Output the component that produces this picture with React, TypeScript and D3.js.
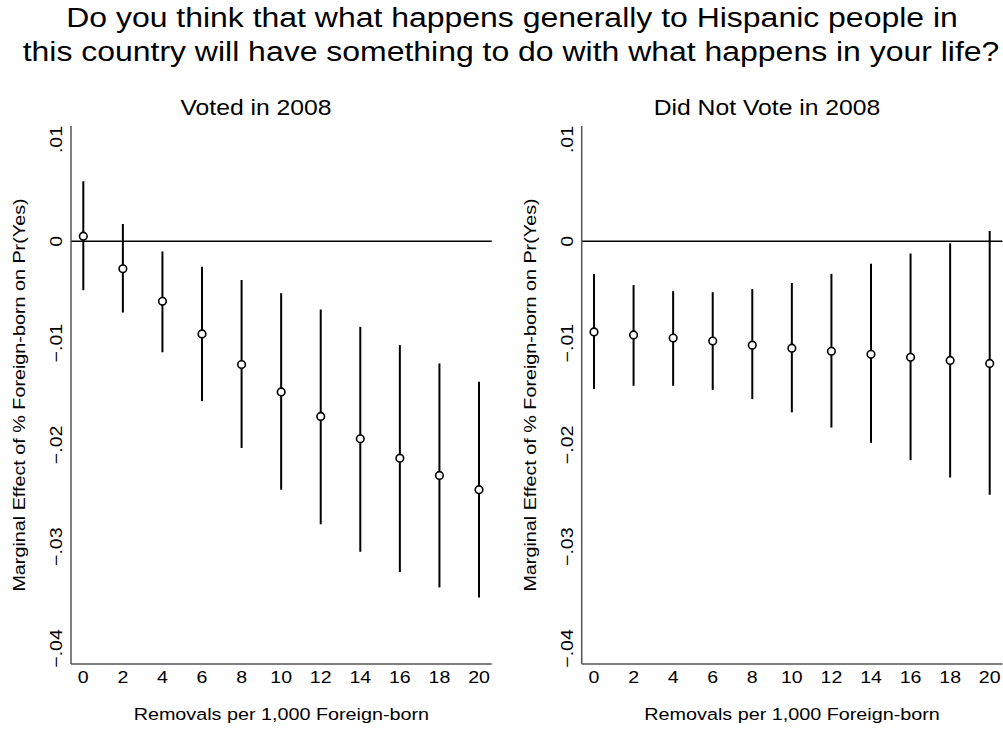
import React from 'react';
import * as d3 from 'd3';

// removals per 1,000 foreign-born (x positions)
const removals = [0, 2, 4, 6, 8, 10, 12, 14, 16, 18, 20];

// Voted in 2008: point estimate and 95% CI
const votedEst = [0.0005, -0.0027, -0.0059, -0.0091, -0.0121, -0.0148, -0.0172, -0.0194, -0.0213, -0.023, -0.0244];
const votedLo = [-0.0048, -0.007, -0.0109, -0.0157, -0.0203, -0.0244, -0.0278, -0.0305, -0.0325, -0.034, -0.035];
const votedHi = [0.0059, 0.0017, -0.001, -0.0025, -0.0038, -0.0051, -0.0067, -0.0084, -0.0102, -0.012, -0.0138];

// Did not vote in 2008
const nonvEst = [-0.0089, -0.0092, -0.0095, -0.0098, -0.0102, -0.0105, -0.0108, -0.0111, -0.0114, -0.0117, -0.012];
const nonvLo = [-0.0145, -0.0142, -0.0142, -0.0146, -0.0155, -0.0168, -0.0183, -0.0198, -0.0215, -0.0232, -0.0249];
const nonvHi = [-0.0032, -0.0043, -0.0049, -0.005, -0.0047, -0.0041, -0.0032, -0.0022, -0.0012, -0.0002, 0.001];

const yTicks = [0.01, 0, -0.01, -0.02, -0.03, -0.04];
const xTicks = [0, 2, 4, 6, 8, 10, 12, 14, 16, 18, 20];

const titleLines = [
  'Do you think that what happens generally to Hispanic people in',
  'this country will have something to do with what happens in your life?',
];
const yTitle = 'Marginal Effect of % Foreign-born on Pr(Yes)';
const xTitle = 'Removals per 1,000 Foreign-born';

const W = 1003;
const H = 729;
const FONT = '"Liberation Sans", Arial, Helvetica, sans-serif';
const SX = 1.15; // the original renderer draws text a bit wider than Arial

const fmtY = (v: number) => (v === 0 ? '0' : d3.format('.2f')(v).replace('0.', '.'));

type LabelProps = {
  x: number;
  y: number;
  size: number;
  rotate?: number;
  anchor?: string;
  children: React.ReactNode;
};

const Label = ({ x, y, size, rotate = 0, anchor = 'middle', children }: LabelProps) => (
  <text
    transform={`translate(${x},${y}) rotate(${rotate}) scale(${SX},1)`}
    textAnchor={anchor}
    fontSize={size}
    fontFamily={FONT}
    fill="#000"
  >
    {children}
  </text>
);

type PanelProps = {
  left: number;
  title: string;
  titleX: number;
  est: number[];
  lo: number[];
  hi: number[];
};

const top = 126;
const bottom = 664;
const frameW = 420.7;

const y = d3.scaleLinear().domain([-0.04, 0.01]).range([648.5, 139.5]);

const Panel = ({ left, title, titleX, est, lo, hi }: PanelProps) => {
  const x = d3.scaleLinear().domain([0, 20]).range([left + 12.3, left + 408]);
  const right = left + frameW;

  return (
    <g>
      <Label x={titleX} y={115} size={21.5}>{title}</Label>

      {/* zero reference line */}
      <line x1={left} x2={right} y1={y(0)} y2={y(0)} stroke="#000" strokeWidth={1.6} />

      {/* axes */}
      <line x1={left} x2={left} y1={top} y2={bottom} stroke="#555" strokeWidth={1.5} />
      <line x1={left} x2={right} y1={bottom} y2={bottom} stroke="#555" strokeWidth={1.5} />

      {yTicks.map(t => (
        <Label key={t} x={left - 9} y={y(t)} size={17} rotate={-90}>{fmtY(t)}</Label>
      ))}
      {xTicks.map(t => (
        <Label key={t} x={x(t)} y={683} size={17}>{t}</Label>
      ))}

      <Label x={left - 46} y={(top + bottom) / 2} size={17.2} rotate={-90}>{yTitle}</Label>
      <Label x={(left + right) / 2} y={720} size={17.2}>{xTitle}</Label>

      {/* confidence intervals */}
      {removals.map((r, i) => (
        <line key={'ci' + r} x1={x(r)} x2={x(r)} y1={y(hi[i])} y2={y(lo[i])} stroke="#000" strokeWidth={2} />
      ))}
      {/* point estimates */}
      {removals.map((r, i) => (
        <circle key={'pt' + r} cx={x(r)} cy={y(est[i])} r={3.8} fill="#fff" stroke="#000" strokeWidth={1.6} />
      ))}
    </g>
  );
};

const App = () => (
  <svg width={W} height={H} style={{ position: 'absolute', left: 0, top: 0, background: '#fff' }}>
    <rect width={W} height={H} fill="#fff" />
    <Label x={512} y={27} size={27.8}>{titleLines[0]}</Label>
    <Label x={511} y={61} size={27.8}>{titleLines[1]}</Label>
    <Panel left={71} title="Voted in 2008" titleX={256} est={votedEst} lo={votedLo} hi={votedHi} />
    <Panel left={581.7} title="Did Not Vote in 2008" titleX={767} est={nonvEst} lo={nonvLo} hi={nonvHi} />
  </svg>
);

export default App;
